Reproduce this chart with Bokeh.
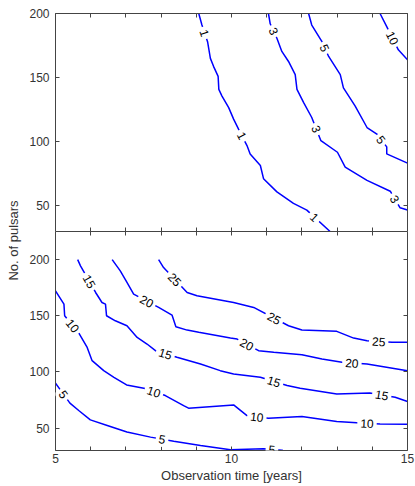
import math
from bokeh.plotting import figure
from bokeh.models import Range1d, LinearAxis, FixedTicker, Label
from bokeh.layouts import row, column
from bokeh.embed import file_html
from bokeh.resources import INLINE

# ---------------- data ----------------
X_TICKS = [5, 10, 15]
X_MINOR = [6, 7, 8, 9, 11, 12, 13, 14]
Y_TICKS = [50, 100, 150, 200]
X_LABEL = "Observation time [years]"
Y_LABEL = "No. of pulsars"

# top panel contours
top_c1_t = [9.07, 9.16, 9.32, 9.40, 9.49, 9.62, 9.64, 9.73, 9.92, 10.06, 10.20, 10.44, 10.53, 10.82, 10.91, 11.29, 11.76, 12.14, 12.80]
top_c1_v = [200, 191, 178, 165, 158.8, 151, 140.8, 135.6, 126.6, 117.6, 109.8, 97, 90.5, 81.5, 71.2, 60.9, 51.9, 46.7, 30]
top_c1_lab = [(9.2, 184.5), (10.25, 104), (12.35, 41)]

top_c3_t = [11.05, 11.10, 11.29, 11.43, 11.62, 11.81, 11.86, 12.05, 12.28, 12.54, 13.01, 13.23, 13.85, 14.51, 14.79, 15]
top_c3_v = [200, 192, 180.7, 170.4, 162.6, 152.3, 140.8, 130.5, 118.9, 100.8, 91.8, 80.2, 69.9, 61.4, 48.5, 46.7]
top_c3_lab = [(11.18, 186), (12.42, 110), (14.62, 55)]

top_c5_t = [12.19, 12.28, 12.57, 12.76, 13.09, 13.18, 13.51, 13.85, 14.13, 14.41, 14.41, 15]
top_c5_v = [200, 191, 178, 166.5, 152.3, 142, 127.9, 111.1, 106, 96, 90.5, 83.3]
top_c5_lab = [(12.63, 173), (14.27, 102)]

top_c10_t = [14.22, 14.41, 14.74, 15]
top_c10_v = [200, 189.7, 171.7, 163.9]
top_c10_lab = [(14.56, 180.7)]

# bottom panel contours
bot_c5_t = [5, 5.41, 5.66, 5.99, 6.47, 7.03, 7.70, 8.36, 9.12, 9.97, 10.91, 11.43, 11.46]
bot_c5_v = [89.9, 72.2, 65.6, 57.3, 52.3, 46.4, 41.9, 38.3, 34.5, 30.6, 31.5, 30.3, 30]
bot_c5_lab = [(5.19, 79), (8.03, 40.4), (11.15, 31.2)]

bot_c10_t = [5, 5.24, 5.26, 5.68, 5.90, 6.04, 6.37, 6.66, 7.02, 7.51, 8.12, 8.64, 8.78, 10.06, 10.44, 11.05, 12.0, 12.99, 13.56, 14.22, 15]
bot_c10_v = [172.2, 160.3, 150, 133.7, 121.8, 110, 101.1, 95.2, 88.4, 85.4, 78.9, 70, 67.7, 70.6, 61.1, 58.8, 60.3, 55.8, 54.6, 53.7, 53.4]
bot_c10_lab = [(5.43, 139.6), (7.79, 81.9), (10.72, 59.7), (13.85, 54)]

bot_c15_t = [5.63, 5.71, 6.14, 6.32, 6.42, 6.45, 6.70, 7.03, 7.32, 7.60, 7.84, 8.45, 9.12, 9.68, 10.06, 10.82, 11.58, 11.95, 12.99, 13.93, 14.65, 15]
bot_c15_v = [200, 194.4, 170.7, 161.8, 160.3, 150, 145.5, 141.1, 130.7, 124.8, 118.9, 113, 107, 101.1, 98.2, 95.2, 87.8, 85.4, 80.4, 81.3, 77.4, 73.6]
bot_c15_lab = [(5.93, 180), (8.12, 116), (11.2, 91), (14.27, 79.5)]

bot_c20_t = [6.61, 6.84, 7.03, 7.22, 7.93, 8.31, 8.42, 8.74, 9.07, 9.97, 10.16, 10.77, 11.20, 12.0, 12.57, 13.14, 13.85, 15]
bot_c20_v = [200, 189.9, 179.6, 169.2, 157.4, 150.6, 140.2, 137.2, 135.2, 130.1, 129.2, 118.9, 117.4, 115.3, 111.5, 108.5, 107, 101.1]
bot_c20_lab = [(7.6, 163.3), (10.44, 124.8), (13.42, 107.5)]

bot_c25_t = [7.93, 8.07, 8.74, 9.02, 10.06, 10.63, 11.62, 12.0, 12.99, 13.47, 13.85, 14.56, 15]
bot_c25_v = [200, 192.9, 170.7, 167.8, 161.8, 157.4, 141.1, 137.3, 136.1, 130.1, 127.8, 126.3, 126.3]
bot_c25_lab = [(8.31, 180), (11.25, 150), (14.18, 126.3)]

TOP_CONTOURS = [("1", top_c1_t, top_c1_v, top_c1_lab), ("3", top_c3_t, top_c3_v, top_c3_lab),
                ("5", top_c5_t, top_c5_v, top_c5_lab), ("10", top_c10_t, top_c10_v, top_c10_lab)]
BOT_CONTOURS = [("5", bot_c5_t, bot_c5_v, bot_c5_lab), ("10", bot_c10_t, bot_c10_v, bot_c10_lab),
                ("15", bot_c15_t, bot_c15_v, bot_c15_lab), ("20", bot_c20_t, bot_c20_v, bot_c20_lab),
                ("25", bot_c25_t, bot_c25_v, bot_c25_lab)]

# ---------------- styling ----------------
FONT = "Liberation Sans"
AX = "#444444"
TXT = "#333333"
LINE = "#0000ff"

LBL_W = 22
BL, BR = 33, 8
FRAME_W = 352
FIG_W = BL + FRAME_W + BR
TOP_FRAME_H = 218
BOT_FRAME_H = 220
TOP_BT = 13
BOT_BB = 34

TOP_Y = (30, 200)
BOT_Y = (30, 225)
X_R = (5, 15)


def style_axis(ax, ticks, minor, labels):
    ax.ticker = FixedTicker(ticks=ticks, minor_ticks=minor)
    ax.major_tick_in = 4
    ax.major_tick_out = 0
    ax.minor_tick_in = 4
    ax.minor_tick_out = 0
    ax.axis_line_color = AX
    ax.major_tick_line_color = AX
    ax.minor_tick_line_color = AX
    ax.axis_line_width = 1
    if labels:
        ax.major_label_text_font = FONT
        ax.major_label_text_font_size = "12px"
        ax.major_label_text_color = TXT
    else:
        ax.major_label_text_font_size = "0px"
        ax.major_label_text_color = None
        ax.major_label_standoff = 0


def place_label(ts, vs, lt, lv, sx, sy):
    best = None
    px, py = lt * sx, lv * sy
    for i in range(len(ts) - 1):
        ax_, ay_ = ts[i] * sx, vs[i] * sy
        bx, by = ts[i + 1] * sx, vs[i + 1] * sy
        dx, dy = bx - ax_, by - ay_
        L2 = dx * dx + dy * dy
        u = 0.0 if L2 == 0 else max(0.0, min(1.0, ((px - ax_) * dx + (py - ay_) * dy) / L2))
        qx, qy = ax_ + u * dx, ay_ + u * dy
        d = (qx - px) ** 2 + (qy - py) ** 2
        if L2 > 0 and (best is None or d < best[0]):
            best = (d, qx / sx, qy / sy, math.atan2(dy, dx))
    _, x, y, a = best
    if a > math.pi / 2:
        a -= math.pi
    if a <= -math.pi / 2:
        a += math.pi
    return x, y, a


def make_panel(height, yr, frame_h, contours, bottom_labels, bt, bb):
    p = figure(width=FIG_W, height=height, x_range=Range1d(*X_R), y_range=Range1d(*yr),
               toolbar_location=None, output_backend="svg",
               min_border_left=BL, min_border_right=BR, min_border_top=bt, min_border_bottom=bb)
    p.grid.visible = False
    p.outline_line_color = None
    p.background_fill_color = "white"
    p.border_fill_color = "white"
    if bottom_labels:
        style_axis(p.xaxis[0], X_TICKS, X_MINOR, True)
        p.xaxis[0].major_label_standoff = 3
        p.xaxis[0].axis_label = X_LABEL
        p.xaxis[0].axis_label_text_font = FONT
        p.xaxis[0].axis_label_text_font_size = "13px"
        p.xaxis[0].axis_label_text_font_style = "normal"
        p.xaxis[0].axis_label_text_color = TXT
        p.xaxis[0].axis_label_standoff = 2
    else:
        style_axis(p.xaxis[0], X_TICKS + X_MINOR, [], False)
    style_axis(p.yaxis[0], Y_TICKS, [], True)
    p.yaxis[0].major_label_standoff = 6
    top_ax = LinearAxis()
    style_axis(top_ax, X_TICKS + X_MINOR, [], False)
    p.add_layout(top_ax, "above")
    right_ax = LinearAxis()
    style_axis(right_ax, Y_TICKS, [], False)
    p.add_layout(right_ax, "right")

    sx = FRAME_W / (X_R[1] - X_R[0])
    sy = frame_h / (yr[1] - yr[0])
    for txt, ts, vs, labs in contours:
        p.line(ts, vs, line_color=LINE, line_width=1.5)
    for txt, ts, vs, labs in contours:
        for (lt, lv) in labs:
            x, y, a = place_label(ts, vs, lt, lv, sx, sy)
            p.add_layout(Label(x=x, y=y, text=txt, angle=a, angle_units="rad",
                               text_align="center", text_baseline="middle",
                               text_font=FONT, text_font_size="12px", text_color="black",
                               background_fill_color="white", background_fill_alpha=1.0,
                               padding=3))
    return p


top = make_panel(TOP_BT + TOP_FRAME_H, TOP_Y, TOP_FRAME_H, TOP_CONTOURS, False, TOP_BT, 0)
bot = make_panel(BOT_FRAME_H + BOT_BB, BOT_Y, BOT_FRAME_H, BOT_CONTOURS, True, 0, BOT_BB)

TOTAL_H = TOP_BT + TOP_FRAME_H + BOT_FRAME_H + BOT_BB
lab = figure(width=LBL_W, height=TOTAL_H, x_range=Range1d(0, 1), y_range=Range1d(0, 1),
             toolbar_location=None, output_backend="svg",
             min_border_left=0, min_border_right=0, min_border_top=0, min_border_bottom=0,
             x_axis_location=None, y_axis_location=None)
lab.title.visible = False
lab.grid.visible = False
lab.outline_line_color = None
lab.scatter([0.5], [0.5], alpha=0)
lab.add_layout(Label(x=13 / LBL_W, y=1 - 240 / TOTAL_H, text=Y_LABEL,
                     angle=math.pi / 2, angle_units="rad", text_align="center", text_baseline="middle",
                     text_font=FONT, text_font_size="13px", text_color=TXT))

layout = row(lab, column(top, bot))
open("out.html", "w").write(file_html(layout, INLINE))
